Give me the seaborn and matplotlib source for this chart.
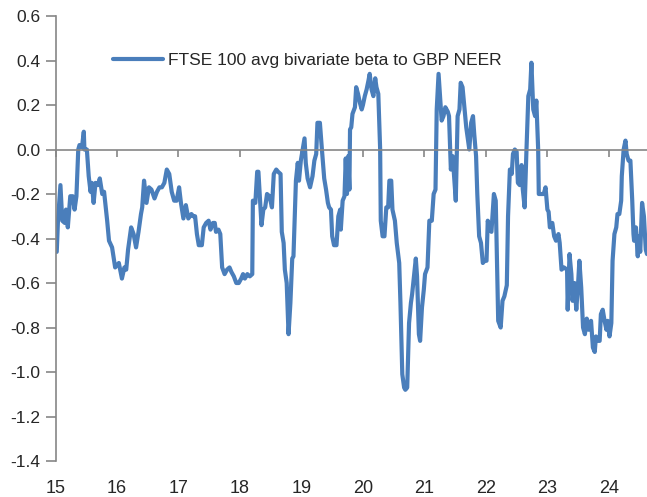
import pandas as pd
import seaborn as sns
import matplotlib.pyplot as plt
from matplotlib.ticker import FormatStrFormatter

# Data (decimal year, beta)
years = [
    2015.02, 2015.04, 2015.08, 2015.11, 2015.15, 2015.17, 2015.20, 2015.22, 2015.24, 2015.28,
    2015.31, 2015.34, 2015.37, 2015.39, 2015.43, 2015.46, 2015.47, 2015.51, 2015.54, 2015.57,
    2015.59, 2015.62, 2015.65, 2015.69, 2015.72, 2015.76, 2015.79, 2015.84, 2015.87, 2015.92,
    2015.97, 2016.03, 2016.08, 2016.12, 2016.15, 2016.18, 2016.23, 2016.27, 2016.31, 2016.35,
    2016.39, 2016.41, 2016.44, 2016.48, 2016.52, 2016.56, 2016.61, 2016.65, 2016.69, 2016.73,
    2016.77, 2016.81, 2016.85, 2016.89, 2016.93, 2016.97, 2017.01, 2017.04, 2017.08, 2017.12,
    2017.16, 2017.21, 2017.24, 2017.27, 2017.30, 2017.33, 2017.38, 2017.41, 2017.45, 2017.49,
    2017.52, 2017.56, 2017.59, 2017.61, 2017.65, 2017.68, 2017.71, 2017.75, 2017.79, 2017.83,
    2017.86, 2017.90, 2017.94, 2017.98, 2018.02, 2018.05, 2018.08, 2018.12, 2018.16, 2018.20,
    2018.21, 2018.25, 2018.28, 2018.30, 2018.35, 2018.38, 2018.41, 2018.44, 2018.48, 2018.52,
    2018.55, 2018.59, 2018.62, 2018.66, 2018.68, 2018.71, 2018.73, 2018.76, 2018.79, 2018.82,
    2018.85, 2018.87, 2018.91, 2018.94, 2018.96, 2018.99, 2019.02, 2019.05, 2019.07, 2019.10,
    2019.14, 2019.18, 2019.21, 2019.24, 2019.26, 2019.30, 2019.33, 2019.37, 2019.40, 2019.43,
    2019.45, 2019.48, 2019.50, 2019.53, 2019.57, 2019.60, 2019.63, 2019.64, 2019.67, 2019.70,
    2019.72, 2019.74, 2019.76, 2019.78, 2019.79, 2019.81, 2019.83, 2019.87, 2019.89, 2019.92,
    2019.95, 2019.98, 2020.00, 2020.03, 2020.06, 2020.09, 2020.11, 2020.14, 2020.17, 2020.20,
    2020.22, 2020.25, 2020.28, 2020.29, 2020.32, 2020.35, 2020.38, 2020.41, 2020.43, 2020.46,
    2020.48, 2020.52, 2020.55, 2020.59, 2020.61, 2020.64, 2020.67, 2020.69, 2020.72, 2020.75,
    2020.78, 2020.80, 2020.83, 2020.86, 2020.88, 2020.91, 2020.93, 2020.96, 2020.99, 2021.01,
    2021.05, 2021.08, 2021.12, 2021.15, 2021.18, 2021.20, 2021.23, 2021.26, 2021.28, 2021.31,
    2021.34, 2021.38, 2021.40, 2021.43, 2021.46, 2021.48, 2021.51, 2021.54, 2021.57, 2021.59,
    2021.62, 2021.65, 2021.68, 2021.71, 2021.73, 2021.76, 2021.79, 2021.81, 2021.84, 2021.86,
    2021.89, 2021.92, 2021.95, 2021.98, 2022.01, 2022.03, 2022.06, 2022.09, 2022.13, 2022.16,
    2022.20, 2022.24, 2022.27, 2022.30, 2022.34, 2022.36, 2022.39, 2022.42, 2022.44, 2022.47,
    2022.50, 2022.52, 2022.55, 2022.58, 2022.60, 2022.63, 2022.66, 2022.69, 2022.72, 2022.74,
    2022.77, 2022.80, 2022.82, 2022.85, 2022.86, 2022.90, 2022.94, 2022.97, 2023.00, 2023.02,
    2023.04, 2023.08, 2023.11, 2023.14, 2023.18, 2023.20, 2023.23, 2023.27, 2023.32, 2023.33,
    2023.36, 2023.39, 2023.41, 2023.44, 2023.47, 2023.50, 2023.52, 2023.55, 2023.58, 2023.61,
    2023.64, 2023.67, 2023.71, 2023.74, 2023.77, 2023.79, 2023.82, 2023.85, 2023.87, 2023.90,
    2023.93, 2023.96, 2023.98, 2024.01, 2024.04, 2024.06, 2024.09, 2024.12, 2024.14, 2024.17,
    2024.20, 2024.21, 2024.24, 2024.27, 2024.29, 2024.32, 2024.35, 2024.38, 2024.40, 2024.41,
    2024.44, 2024.47, 2024.48, 2024.51, 2024.54, 2024.57, 2024.60, 2024.62,
]
beta = [
    -0.46, -0.32, -0.16, -0.32, -0.33, -0.27, -0.35, -0.28, -0.21, -0.21,
    -0.27, -0.21, 0.00, 0.02, 0.01, 0.08, 0.00, 0.00, -0.12, -0.19,
    -0.15, -0.24, -0.15, -0.16, -0.13, -0.20, -0.19, -0.32, -0.41, -0.44,
    -0.53, -0.51, -0.58, -0.53, -0.54, -0.45, -0.35, -0.38, -0.44, -0.37,
    -0.29, -0.26, -0.14, -0.24, -0.17, -0.18, -0.22, -0.19, -0.17, -0.17,
    -0.15, -0.09, -0.11, -0.19, -0.23, -0.23, -0.17, -0.24, -0.31, -0.25,
    -0.31, -0.29, -0.30, -0.30, -0.38, -0.43, -0.43, -0.35, -0.33, -0.32,
    -0.36, -0.33, -0.33, -0.37, -0.36, -0.38, -0.53, -0.56, -0.54, -0.53,
    -0.55, -0.57, -0.60, -0.60, -0.58, -0.56, -0.58, -0.56, -0.57, -0.56,
    -0.23, -0.24, -0.10, -0.10, -0.34, -0.27, -0.26, -0.20, -0.21, -0.26,
    -0.11, -0.09, -0.10, -0.11, -0.37, -0.42, -0.54, -0.60, -0.83, -0.69,
    -0.49, -0.48, -0.14, -0.06, -0.14, -0.05, 0.00, 0.05, -0.06, -0.13,
    -0.17, -0.12, -0.05, -0.02, 0.12, 0.12, 0.01, -0.13, -0.18, -0.24,
    -0.26, -0.27, -0.39, -0.43, -0.43, -0.30, -0.27, -0.36, -0.23, -0.21,
    -0.04, -0.20, -0.03, -0.18, 0.09, 0.10, 0.16, 0.19, 0.28, 0.25,
    0.21, 0.18, 0.20, 0.24, 0.27, 0.31, 0.34, 0.27, 0.24, 0.32,
    0.28, 0.25, 0.00, -0.32, -0.39, -0.39, -0.26, -0.26, -0.14, -0.14,
    -0.27, -0.32, -0.42, -0.51, -0.69, -1.01, -1.07, -1.08, -1.07, -0.78,
    -0.69, -0.65, -0.57, -0.49, -0.57, -0.83, -0.86, -0.71, -0.63, -0.56,
    -0.53, -0.32, -0.32, -0.20, -0.18, 0.18, 0.34, 0.21, 0.13, 0.15,
    0.19, 0.17, 0.15, -0.09, -0.03, -0.11, -0.23, 0.15, 0.18, 0.30,
    0.28, 0.19, 0.10, 0.04, 0.00, 0.12, 0.15, 0.07, -0.03, -0.20,
    -0.39, -0.42, -0.51, -0.50, -0.50, -0.32, -0.36, -0.37, -0.20, -0.23,
    -0.77, -0.80, -0.68, -0.66, -0.61, -0.30, -0.09, -0.11, -0.02, 0.00,
    -0.01, -0.15, -0.16, -0.07, -0.18, -0.26, 0.00, 0.24, 0.27, 0.39,
    0.18, 0.15, 0.22, 0.00, -0.20, -0.20, -0.20, -0.17, -0.27, -0.28,
    -0.35, -0.33, -0.39, -0.41, -0.38, -0.42, -0.54, -0.53, -0.54, -0.72,
    -0.47, -0.56, -0.68, -0.60, -0.72, -0.60, -0.50, -0.62, -0.80, -0.83,
    -0.76, -0.81, -0.77, -0.89, -0.91, -0.84, -0.86, -0.86, -0.74, -0.72,
    -0.77, -0.81, -0.77, -0.84, -0.78, -0.50, -0.38, -0.35, -0.29, -0.29,
    -0.23, -0.12, 0.00, 0.04, -0.02, -0.05, -0.05, -0.23, -0.38, -0.41,
    -0.35, -0.48, -0.39, -0.46, -0.24, -0.30, -0.45, -0.47,
]
series_label = "FTSE 100 avg bivariate beta to GBP NEER"
year_ticks = [2015, 2016, 2017, 2018, 2019, 2020, 2021, 2022, 2023, 2024]
year_labels = ["15", "16", "17", "18", "19", "20", "21", "22", "23", "24"]

df = pd.DataFrame({"year": years, "beta": beta})

sns.set_style("white")
plt.rcParams['font.family'] = ['Liberation Sans', 'DejaVu Sans']
plt.rcParams['axes.unicode_minus'] = False

fig = plt.figure(figsize=(6.47, 4.97), dpi=100)
ax = fig.add_axes([0.0858, 0.0724, 0.9142, 0.8954])

sns.lineplot(data=df, x="year", y="beta", ax=ax, color="#4a7ebb",
             linewidth=3, label=series_label)

grey = "#868686"
ax.set_xlim(2015, 2024.62)
ax.set_ylim(-1.4, 0.6)
ax.set_yticks([0.6, 0.4, 0.2, 0.0, -0.2, -0.4, -0.6, -0.8, -1.0, -1.2, -1.4])
ax.yaxis.set_major_formatter(FormatStrFormatter('%.1f'))
ax.set_xlabel("")
ax.set_ylabel("")

# x axis line sits at zero, labels at the bottom
for s in ["top", "right"]:
    ax.spines[s].set_visible(False)
ax.spines["left"].set_color(grey)
ax.spines["left"].set_linewidth(1.2)
ax.spines["bottom"].set_position(("data", 0))
ax.spines["bottom"].set_color(grey)
ax.spines["bottom"].set_linewidth(1.2)
ax.set_xticks(year_ticks)
ax.tick_params(axis="x", bottom=True, direction="out", length=5, width=1.2,
               color=grey, labelbottom=False)
ax.tick_params(axis="y", left=True, direction="out", length=7, width=1.2,
               color=grey, labelsize=12.5, pad=4)

sec = ax.secondary_xaxis(0)
sec.set_xticks(year_ticks)
sec.set_xticklabels(year_labels)
sec.tick_params(length=0, labelsize=13, pad=14)
sec.spines["bottom"].set_visible(False)

ax.legend(loc="center left", bbox_to_anchor=(0.097, 0.901), frameon=False,
          fontsize=12.5, handlelength=2.9, handletextpad=0.25,
          borderpad=0, borderaxespad=0)

fig.savefig("out.png", dpi=100)
